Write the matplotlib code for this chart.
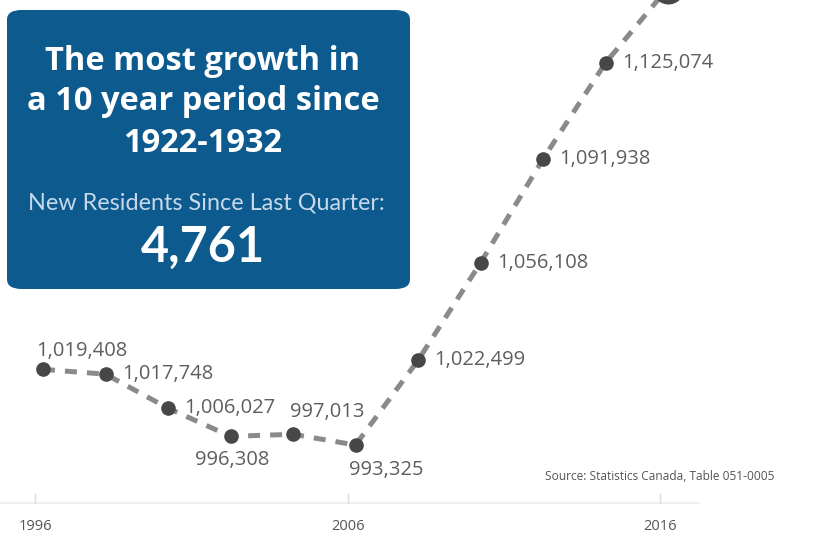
import matplotlib.pyplot as plt
from matplotlib.patches import FancyBboxPatch

# population by year (Statistics Canada, Table 051-0005)
years = [1996, 1998, 2000, 2002, 2004, 2006, 2008, 2010, 2012, 2014, 2016]
population = [1019408, 1017748, 1006027, 996308, 997013, 993325,
              1022499, 1056108, 1091938, 1125074, 1151000]
labels = ["1,019,408", "1,017,748", "1,006,027", "996,308", "997,013", "993,325",
          "1,022,499", "1,056,108", "1,091,938", "1,125,074", ""]
# label offsets in points (dx, dy) and alignment
label_pos = [(-5, 6, "left", "bottom"), (12, 0, "left", "center"), (12, 0, "left", "center"),
             (1, -10, "center", "top"), (-2, 9, "left", "bottom"), (-5, -11, "left", "top"),
             (12, 0, "left", "center"), (12, 0, "left", "center"), (12, 0, "left", "center"),
             (12, 0, "left", "center"), (0, 0, "left", "center")]
tick_years = [1996, 2006, 2016]

W, H = 817, 537
fig = plt.figure(figsize=(W / 100, H / 100), dpi=100)
ax = fig.add_axes([0, 0, 1, 1])

# dashed line with markers
ax.plot(years, population, color="#8a8a8a", linewidth=3.6, dashes=(2.4, 2.0),
        solid_capstyle="butt", dash_capstyle="butt", zorder=2)
ax.plot(years[:-1], population[:-1], "o", color="#474747", markersize=9.5, zorder=3)
ax.plot(years[-1:], population[-1:], "o", color="#474747", markersize=22, zorder=3)

for yr, val, lab, (dx, dy, ha, va) in zip(years, population, labels, label_pos):
    ax.annotate(lab, (yr, val), xytext=(dx, dy), textcoords="offset points",
                ha=ha, va=va, fontsize=14.5, color="#5e5e5e", family="Open Sans")

# axis limits chosen so that data maps to the picture
ax.set_xlim(1996 - 43 / 31.25, 1996 + (W - 43) / 31.25)
ax.set_ylim(993325 - 92 / 0.0029, 993325 + 445 / 0.0029)
ax.axis("off")

# baseline and ticks
base = 993325 - 58 / 0.0029
ax.plot([ax.get_xlim()[0], 2017], [base, base], color="#ececec", linewidth=1.2, zorder=1)
for ty in tick_years:
    ax.plot([ty - 0.25, ty - 0.25], [base, base + 9 / 0.0029], color="#dddddd", linewidth=1, zorder=1)
    ax.text(ty - 0.25, base - 23 / 0.0029, str(ty), ha="center", va="center",
            fontsize=10.5, color="#555555", family="Open Sans")

fig.text(545 / W, 1 - 477 / H, "Source: Statistics Canada, Table 051-0005",
         fontsize=8.6, color="#555555", ha="left", va="center", family="Open Sans")

# blue info box
box = FancyBboxPatch((7 / W, 1 - 289 / H), 403 / W, 279 / H,
                     boxstyle="round,pad=0,rounding_size=0.018",
                     transform=fig.transFigure, facecolor="#0d5a8f", edgecolor="none", zorder=5)
fig.patches.append(box)

title_lines = ["The most growth in", "a 10 year period since", "1922-1932"]
for i, line in enumerate(title_lines):
    fig.text(203 / W, 1 - (61 + 41 * i) / H, line, ha="center", va="center",
             fontsize=23.5, fontweight="bold", color="white", family="Open Sans", zorder=6)
fig.text(206 / W, 1 - 203 / H, "New Residents Since Last Quarter:", ha="center", va="center",
         fontsize=16.8, fontweight="normal", color="#c6d9ea", family="Lato", zorder=6)
fig.text(203 / W, 1 - 247 / H, "4,761", ha="center", va="center",
         fontsize=35, fontweight="bold", color="white", family="Lato", zorder=6)

fig.savefig("out.png", dpi=100)
